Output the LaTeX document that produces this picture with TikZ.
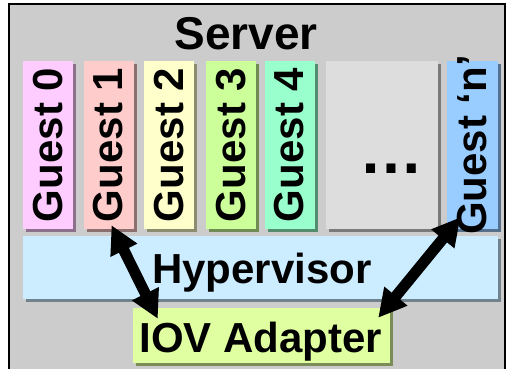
\documentclass[tikz,border=0pt]{standalone}
\usepackage{fontspec}
\setmainfont{Liberation Sans}
\usetikzlibrary{arrows.meta,shadows}
\definecolor{srvgray}{HTML}{CCCCCC}
\definecolor{gpink}{HTML}{FFCCFF}
\definecolor{gred}{HTML}{FFCCCC}
\definecolor{gyellow}{HTML}{FFFFCC}
\definecolor{ggreen}{HTML}{CCFF99}
\definecolor{gmint}{HTML}{99FFCC}
\definecolor{gdots}{HTML}{DDDDDD}
\definecolor{gblue}{HTML}{99CCFF}
\definecolor{hypblue}{HTML}{CCECFF}
\definecolor{iovgreen}{HTML}{E0FFA0}
\tikzset{
    box/.style={rectangle,inner sep=0pt,fill=#1,
        general shadow={fill=#1!55!black,shadow xshift=3pt,shadow yshift=-3pt}},
    guest/.style={box=#1,minimum width=50pt,minimum height=168pt},
    gtext/.style={rotate=90,inner sep=0pt,font=\fontsize{42}{42}\selectfont\bfseries},
    big/.style={inner sep=0pt,font=\fontsize{42}{42}\selectfont\bfseries},
    link/.style={line width=11pt,arrows={Triangle[length=28pt,width=28pt]-Triangle[length=28pt,width=28pt]}}
}
\begin{document}
\begin{tikzpicture}[x=1pt,y=-1pt]
    \useasboundingbox (0,0) rectangle (506,369);
    % server frame
    \draw[fill=srvgray,line width=2pt] (9,4) rectangle (505,380);
    \node[big,anchor=base,font=\fontsize{46}{46}\selectfont\bfseries] (server) at (246,50) {Server};
    % guests
    \node[guest=gpink] (g0) at (48,145) {};
    \node[guest=gred] (g1) at (108.5,145) {};
    \node[guest=gyellow] (g2) at (169,145) {};
    \node[guest=ggreen] (g3) at (231,145) {};
    \node[guest=gmint] (g4) at (289.5,145) {};
    \node[guest=gdots,minimum width=112pt] (gx) at (382,145) {};
    \node[guest=gblue,minimum width=51pt] (gn) at (472.5,145) {};
    \node[gtext] (t0) at (g0) {Guest 0};
    \node[gtext] (t1) at (g1) {Guest 1};
    \node[gtext] (t2) at (g2) {Guest 2};
    \node[gtext] (t3) at (g3) {Guest 3};
    \node[gtext] (t4) at (g4) {Guest 4};
    \node[gtext] (tn) at (gn) {Guest ‘n’};
    \node[big,anchor=base,font=\fontsize{64}{64}\selectfont\bfseries] (dots) at (391,173) {…};
    % hypervisor and adapter
    \node[box=hypblue,minimum width=475pt,minimum height=63pt] (hyp) at (260.5,267.5) {};
    \node[big,anchor=base] (hyptext) at (262,283) {Hypervisor};
    \node[box=iovgreen,minimum width=257pt,minimum height=55pt] (iov) at (261.5,335.5) {};
    \node[big,anchor=base] (iovtext) at (261,352) {IOV Adapter};
    % links
    \coordinate (l1a) at ([shift={(3,-4)}]g1.south);
    \coordinate (l1b) at ([shift={(25,11)}]iov.north west);
    \coordinate (l2a) at ([shift={(-12,-12)}]gn.south);
    \coordinate (l2b) at ([shift={(-12,10)}]iov.north east);
    \draw[link] (l1a) -- (l1b);
    \draw[link] (l2a) -- (l2b);
\end{tikzpicture}
\end{document}
